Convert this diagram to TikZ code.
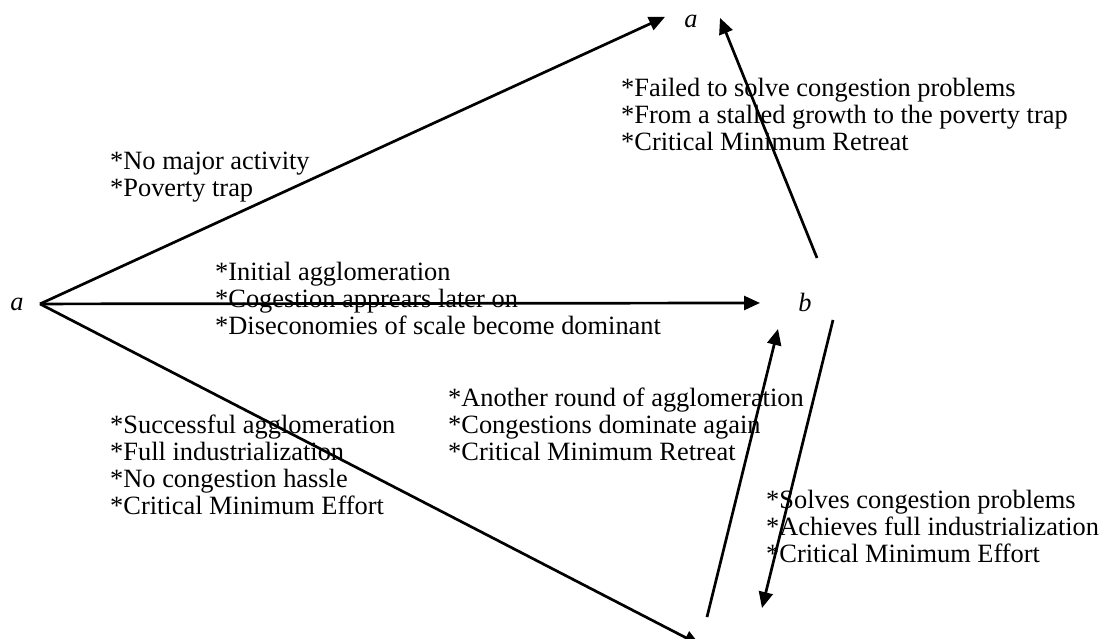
\documentclass[tikz,border=0pt]{standalone}
\usepackage{fontspec}
\setmainfont{Liberation Serif}
\usetikzlibrary{arrows.meta}
\begin{document}
\begin{tikzpicture}[x=1pt,y=-1pt,
  arr/.style={line width=2.7pt,-{Triangle[length=16pt,width=14pt]}},
  lbl/.style={anchor=base west,inner sep=0pt,font=\fontsize{26.4}{27}\selectfont},
  letter/.style={anchor=base,inner sep=0pt,font=\fontsize{26.4}{27}\selectfont\itshape}]
\useasboundingbox (0,0) rectangle (1105,638);
\clip (0,0) rectangle (1105,638);
% letters
\node[letter] (a) at (17,310) {a};
\node[letter] (at) at (691,27) {a};
\node[letter] (b) at (805,311) {b};
\coordinate (c) at (725,650);
% connectors
\draw[arr] ([xshift=23pt]a.center) -- ([shift={(-26,-4)}]at.center);
\draw[arr] ([xshift=23pt]a.center) -- ([shift={(-45,1)}]b.center);
\draw[arr] ([xshift=23pt]a.center) -- ([shift={(-25,-5)}]c);
\draw[arr] ([shift={(12,-44)}]b.center) -- ([shift={(29,-3)}]at.center);
\draw[arr] ([shift={(-18,-33)}]c) -- ([shift={(-27,27)}]b.center);
\draw[arr] ([shift={(28,18)}]b.center) -- ([shift={(37,-42)}]c);
% labels
\node[lbl] (t1) at (110,169) {\begin{tabular}[t]{@{}l@{}}*No major activity\\{}*Poverty trap\end{tabular}};
\node[lbl] (t2) at (215,280) {\begin{tabular}[t]{@{}l@{}}*Initial agglomeration\\{}*Cogestion apprears later on\\{}*Diseconomies of scale become dominant\end{tabular}};
\node[lbl] (t3) at (621,96) {\begin{tabular}[t]{@{}l@{}}*Failed to solve congestion problems\\{}*From a stalled growth to the poverty trap\\{}*Critical Minimum Retreat\end{tabular}};
\node[lbl] (t4) at (448,406) {\begin{tabular}[t]{@{}l@{}}*Another round of agglomeration\\{}*Congestions dominate again\\{}*Critical Minimum Retreat\end{tabular}};
\node[lbl] (t5) at (110,433) {\begin{tabular}[t]{@{}l@{}}*Successful agglomeration\\{}*Full industrialization\\{}*No congestion hassle\\{}*Critical Minimum Effort\end{tabular}};
\node[lbl] (t6) at (766,508) {\begin{tabular}[t]{@{}l@{}}*Solves congestion problems\\{}*Achieves full industrialization\\{}*Critical Minimum Effort\end{tabular}};
\end{tikzpicture}
\end{document}
